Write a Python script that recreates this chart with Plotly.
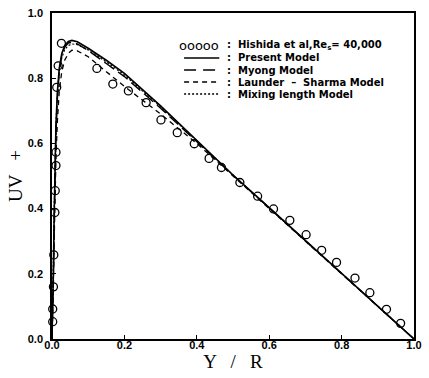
import plotly.graph_objects as go

# Experimental data (Hishida et al.)
exp_x = [0.002, 0.002, 0.004, 0.005, 0.008, 0.009, 0.011, 0.011, 0.013, 0.017, 0.026,
         0.124, 0.168, 0.211, 0.260, 0.301, 0.346, 0.393, 0.434, 0.468, 0.519,
         0.568, 0.612, 0.657, 0.702, 0.745, 0.786, 0.837, 0.878, 0.924, 0.963]
exp_y = [0.053, 0.092, 0.160, 0.258, 0.388, 0.455, 0.532, 0.573, 0.772, 0.838, 0.907,
         0.830, 0.782, 0.761, 0.725, 0.672, 0.633, 0.599, 0.554, 0.526, 0.480,
         0.438, 0.399, 0.364, 0.320, 0.272, 0.235, 0.187, 0.142, 0.091, 0.048]

# Model curves
mx = [0, 0.002, 0.004, 0.006, 0.008, 0.011, 0.015, 0.02, 0.027, 0.035, 0.045, 0.055,
      0.07, 0.1, 0.15, 0.2, 0.3, 0.4, 0.5, 0.6, 0.7, 0.8, 0.9, 1.0]
present = [0, 0.08, 0.22, 0.38, 0.52, 0.66, 0.76, 0.83, 0.875, 0.90, 0.913, 0.916,
           0.912, 0.892, 0.855, 0.815, 0.715, 0.608, 0.503, 0.403, 0.302, 0.201, 0.10, 0.0]
myong = [0, 0.07, 0.20, 0.35, 0.49, 0.63, 0.74, 0.82, 0.87, 0.895, 0.908, 0.91,
         0.905, 0.885, 0.845, 0.805, 0.708, 0.604, 0.502, 0.402, 0.301, 0.20, 0.10, 0.0]
launder = [0, 0.06, 0.17, 0.30, 0.42, 0.56, 0.67, 0.76, 0.82, 0.855, 0.876, 0.886,
           0.884, 0.866, 0.82, 0.775, 0.69, 0.60, 0.50, 0.401, 0.30, 0.20, 0.10, 0.0]
mixing = [0, 0.09, 0.24, 0.40, 0.53, 0.66, 0.75, 0.82, 0.862, 0.888, 0.90, 0.905,
          0.903, 0.887, 0.85, 0.81, 0.712, 0.606, 0.503, 0.402, 0.301, 0.20, 0.10, 0.0]

tick_vals = [0.0, 0.2, 0.4, 0.6, 0.8, 1.0]
tick_text = ["0.0", "0.2", "0.4", "0.6", "0.8", "1.0"]

legend_labels = [":  Hishida et al,Re<sub>s</sub>= 40,000", ":  Present Model", ":  Myong Model",
                 ":  Launder  \u2013  Sharma Model", ":  Mixing length Model"]
legend_dashes = [None, "solid", "12px,7px", "5px,4px", "2px,2px"]

fig = go.Figure()
fig.add_trace(go.Scatter(x=mx, y=present, mode="lines", line=dict(color="black", width=1.6)))
fig.add_trace(go.Scatter(x=mx, y=myong, mode="lines", line=dict(color="black", width=1.4, dash="12px,5px")))
fig.add_trace(go.Scatter(x=mx, y=launder, mode="lines", line=dict(color="black", width=1.3, dash="5px,4px")))
fig.add_trace(go.Scatter(x=mx, y=mixing, mode="lines", line=dict(color="black", width=1.2, dash="2px,2px")))
fig.add_trace(go.Scatter(x=exp_x, y=exp_y, mode="markers", cliponaxis=False,
                         marker=dict(symbol="circle-open", size=8, color="black", line=dict(width=1.3))))

# Manual legend (paper coordinates)
px0, px1 = 52, 422
py0, py1 = 13, 339
def pxp(px):
    return (px - px0) / (px1 - px0)
def pyp(py):
    return (py1 - py) / (py1 - py0)

rows = [46, 58, 70, 82, 94]
for i, (lab, dsh) in enumerate(zip(legend_labels, legend_dashes)):
    yy = pyp(rows[i])
    fig.add_annotation(x=pxp(229), y=yy, xref="paper", yref="paper", text=lab, showarrow=False,
                       xanchor="left", yanchor="middle",
                       font=dict(family="DejaVu Sans", size=10, color="black", weight="bold"))
    if dsh is None:
        fig.add_annotation(x=pxp(225), y=yy, xref="paper", yref="paper", text="ooooo",
                           showarrow=False, xanchor="right", yanchor="middle",
                           font=dict(family="DejaVu Sans", size=13, color="black"))
    else:
        fig.add_shape(type="line", xref="paper", yref="paper", x0=pxp(187), x1=pxp(223),
                      y0=yy, y1=yy, line=dict(color="black", width=1.4, dash=dsh))

axis_common = dict(range=[0, 1], tickvals=tick_vals, ticktext=tick_text, ticks="inside",
                   ticklen=4, tickcolor="black", showline=True, linecolor="black", linewidth=1.5,
                   mirror=True, showgrid=False, zeroline=False,
                   tickfont=dict(family="Liberation Sans", size=11, color="black", weight="bold"))

fig.update_layout(
    width=429, height=378, showlegend=False,
    margin=dict(l=52, r=7, t=13, b=39),
    plot_bgcolor="white", paper_bgcolor="white",
    xaxis=dict(**axis_common, ticklabelstandoff=-5,
               title=dict(text="Y   /   R", standoff=0,
                          font=dict(family="Liberation Serif", size=19, color="black"))),
    yaxis=dict(**axis_common, ticklabelstandoff=5,
               title=dict(text="UV   +", standoff=0,
                          font=dict(family="Liberation Serif", size=19, color="black"))),
)

fig.write_html("out.html")
